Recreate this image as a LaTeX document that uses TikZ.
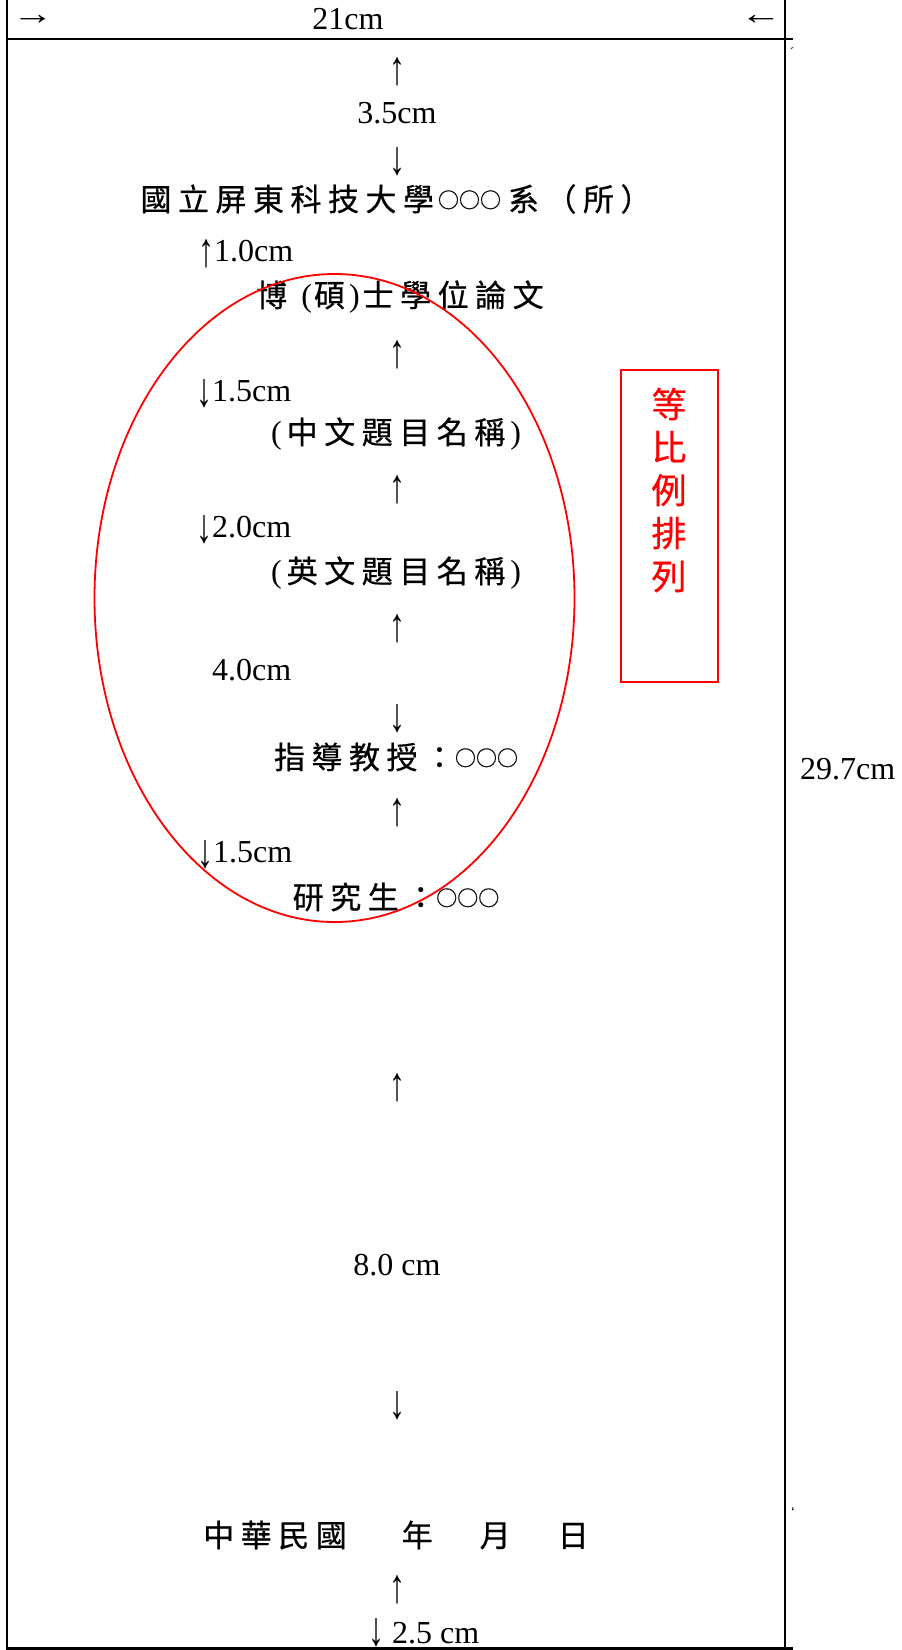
\documentclass[tikz,border=0pt]{standalone}
\usepackage{graphicx}
\usepackage{fontspec}
\setmainfont{Liberation Serif}
\newfontfamily\cjkf[FakeBold=0.6]{Noto Sans CJK TC}
\newcommand\C[1]{{\cjkf\fontsize{31}{36}\selectfont #1}}
\newcommand\gp{\hspace{6.5pt}}
\newcommand\oo{{\cjkf\fontsize{21}{21}\selectfont\raisebox{3pt}{○○○}}}
\newcommand\ua{\scalebox{1}[1.5]{↑}}
\newcommand\da{\scalebox{1}[1.5]{↓}}
\newcommand\iua{\raisebox{-5pt}{\ua}}
\newcommand\ida{\raisebox{-5pt}{\da}}
\definecolor{pred}{RGB}{255,0,0}
\begin{document}
\begin{tikzpicture}[x=1pt,y=-1pt,
  lat/.style={inner sep=0pt, font=\fontsize{32}{38}\selectfont},
  cjkline/.style={inner sep=0pt, font=\fontsize{32}{38}\selectfont},
  tiny/.style={inner sep=0pt, font=\fontsize{14}{14}\selectfont},
  frame/.style={line width=2.2pt, black},
  redline/.style={line width=1.8pt, pred}]
\useasboundingbox (0,0) rectangle (902,1650);
\fill[white] (0,0) rectangle (902,1650);

% page frame
\draw[frame] (7,0) -- (7,1650);
\draw[frame] (785,0) -- (785,1650);
\draw[frame] (7,39) -- (793,39);
\draw[frame] (7,1648.5) -- (793,1648.5);

% width dimension
\node[lat, anchor=west] (arrR) at (12,20) {\scalebox{1.3}[1]{→}};
\node[lat] (w21) at (348,19) {21cm};
\node[lat, anchor=east] (arrL) at (782,20) {\scalebox{1.3}[1]{←}};
\node[tiny] (mk1) at (792,53) {´};
\node[tiny] (mk2) at (793,1512) {`};
\node[lat, anchor=west] (h297) at (800,769) {29.7cm};

% top margin
\node[lat] (u1) at (397,72) {\ua};
\node[lat] (d35) at (397,113) {3.5cm};
\node[lat] (d1) at (397,162) {\da};

\node[cjkline] (title) at (396,199) {\C{國\gp{}立\gp{}屏\gp{}東\gp{}科\gp{}技\gp{}大\gp{}學}\hspace{4pt}\oo\hspace{7pt}\C{系\gp{}（\gp{}所\gp{}）}};

\node[lat, anchor=west] (s10) at (198,254) {\iua1.0cm};
\node[cjkline] (deg) at (400,297) {\C{博}\hspace{14pt}(\hspace{2pt}\C{碩}\hspace{4pt})\hspace{3pt}\C{士\gp{}學\gp{}位\gp{}論\gp{}文}};

\node[lat] (u2) at (397,355) {\ua};
\node[lat, anchor=west] (s15a) at (196,394) {\ida1.5cm};
\node[cjkline] (zh) at (396,434) {(\hspace{5pt}\C{中\gp{}文\gp{}題\gp{}目\gp{}名\gp{}稱}\hspace{5pt})};

\node[lat] (u3) at (397,490) {\ua};
\node[lat, anchor=west] (s20) at (196,530) {\ida2.0cm};
\node[cjkline] (en) at (396,573) {(\hspace{5pt}\C{英\gp{}文\gp{}題\gp{}目\gp{}名\gp{}稱}\hspace{5pt})};

\node[lat] (u4) at (397,629) {\ua};
\node[lat, anchor=west] (s40) at (212,670) {4.0cm};
\node[lat] (d4) at (397,719) {\da};
\node[cjkline] (adv) at (396,757) {\C{指\gp{}導\gp{}教\gp{}授\gp{}：}\oo};

\node[lat] (u5) at (397,813) {\ua};
\node[lat, anchor=west] (s15b) at (197,855) {\ida1.5cm};
\node[cjkline] (stu) at (396,897) {\C{研\gp{}究\gp{}生\gp{}：}\oo};

% bottom part
\node[lat] (u6) at (397,1088) {\ua};
\node[lat] (s80) at (397,1265) {8.0 cm};
\node[lat] (d6) at (397,1406) {\da};
\node[cjkline] (date) at (396,1535) {\C{中\gp{}華\gp{}民\gp{}國}\hspace{55pt}\C{年}\hspace{47pt}\C{月}\hspace{47pt}\C{日}};
\node[lat] (u7) at (397,1590) {\ua};
\node[lat, anchor=west] (s25) at (368,1633) {\raisebox{-2pt}{\da}\ 2.5 cm};

% red annotations
\draw[redline] (334.5,598) ellipse [x radius=240, y radius=324];
\draw[redline] (621,370) rectangle (718,682);
\node[inner sep=0pt, text=pred, align=center,
      font=\cjkf\fontsize{35}{43}\selectfont] (ratio) at (669,490) {等\\比\\例\\排\\列};
\end{tikzpicture}
\end{document}
